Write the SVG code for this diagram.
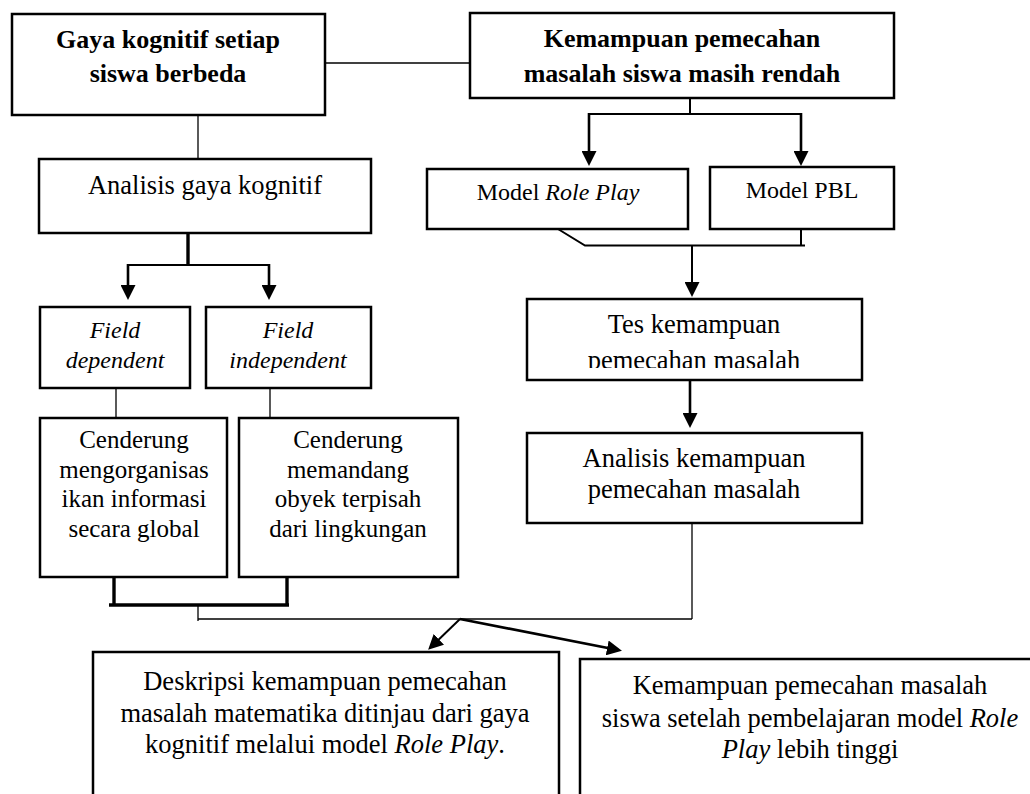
<svg xmlns="http://www.w3.org/2000/svg" width="1030" height="794" viewBox="0 0 1030 794">
<style>
.box{fill:#fff;stroke:#000;stroke-width:2.5}
.t{font-family:"Liberation Serif","Times New Roman",serif;fill:#000;text-anchor:middle}
.b{font-weight:bold;font-size:26px}
.r{font-size:26.5px}
.m{font-size:24px}
.c{font-size:25px}
.i{font-style:italic}
.thin{fill:none;stroke:#000;stroke-width:1.3}
.med{fill:none;stroke:#000;stroke-width:2}
.thick{fill:none;stroke:#000;stroke-width:2.6}
.heavy{fill:none;stroke:#000;stroke-width:3.4}
</style>
<defs>
<marker id="ah" viewBox="0 0 15 15" markerWidth="15" markerHeight="15" refX="11" refY="7.5" orient="auto" markerUnits="userSpaceOnUse">
<path d="M0,0 L15,7.5 L0,15 Z" fill="#000"/>
</marker>
<clipPath id="tesclip"><rect x="527" y="299" width="335" height="69"/></clipPath>
</defs>
<rect width="1030" height="794" fill="#fff"/>

<g id="connectors">
<line class="thin" x1="325" y1="63" x2="470" y2="63"/>
<line class="thin" x1="198" y1="115" x2="198" y2="159"/>
<line class="heavy" x1="188" y1="233" x2="188" y2="265"/>
<line class="med" x1="127" y1="265" x2="270" y2="265"/>
<line class="thick" x1="128" y1="264" x2="128" y2="296" marker-end="url(#ah)"/>
<line class="thick" x1="269" y1="264" x2="269" y2="296" marker-end="url(#ah)"/>
<line class="thin" x1="116" y1="388" x2="116" y2="418"/>
<line class="thin" x1="270" y1="388" x2="270" y2="418"/>
<line class="heavy" x1="114" y1="577" x2="114" y2="605"/>
<line class="heavy" x1="287" y1="577" x2="287" y2="605"/>
<line class="heavy" x1="109" y1="605" x2="289" y2="605"/>
<line class="thin" x1="198" y1="605" x2="198" y2="621"/>
<line class="thin" x1="198" y1="619" x2="692" y2="619"/>
<line class="thin" x1="692" y1="523" x2="692" y2="619"/>
<line class="med" x1="690" y1="98" x2="690" y2="114"/>
<line class="med" x1="588" y1="114" x2="802" y2="114"/>
<line class="thick" x1="589" y1="113" x2="589" y2="162" marker-end="url(#ah)"/>
<line class="thick" x1="801" y1="113" x2="801" y2="162" marker-end="url(#ah)"/>
<polyline class="med" points="558,229 585,245.5 805,245.5"/>
<line class="med" x1="801" y1="211" x2="801" y2="246"/>
<line class="med" x1="692" y1="245" x2="692" y2="293" marker-end="url(#ah)"/>
<line class="thick" x1="690" y1="380" x2="690" y2="424" marker-end="url(#ah)"/>
<line class="med" x1="460" y1="619" x2="431" y2="647" marker-end="url(#ah)"/>
<line class="thick" x1="460" y1="619" x2="618" y2="650" marker-end="url(#ah)"/>
</g>

<g id="gaya-kognitif">
<rect class="box" x="12" y="14" width="313" height="101"/>
<text class="t b" x="168" y="48">Gaya kognitif setiap</text>
<text class="t b" x="168" y="82">siswa berbeda</text>
</g>

<g id="kemampuan-rendah">
<rect class="box" x="470" y="13" width="424" height="85"/>
<text class="t b" x="682" y="47">Kemampuan pemecahan</text>
<text class="t b" x="682" y="82">masalah siswa masih rendah</text>
</g>

<g id="analisis-gaya">
<rect class="box" x="39" y="159" width="332" height="74"/>
<text class="t r" x="205" y="194">Analisis gaya kognitif</text>
</g>

<g id="model-role-play">
<rect class="box" x="427" y="169" width="261" height="60"/>
<text class="t m" x="558" y="200">Model <tspan class="i">Role Play</tspan></text>
</g>

<g id="model-pbl">
<rect class="box" x="710" y="167" width="184" height="62"/>
<text class="t m" x="802" y="198">Model PBL</text>
</g>

<g id="field-dependent">
<rect class="box" x="40" y="307" width="150" height="81"/>
<text class="t m i" x="115" y="338">Field</text>
<text class="t m i" x="115" y="368">dependent</text>
</g>

<g id="field-independent">
<rect class="box" x="206" y="307" width="165" height="81"/>
<text class="t m i" x="288" y="338">Field</text>
<text class="t m i" x="288" y="368">independent</text>
</g>

<g id="tes">
<rect class="box" x="527" y="299" width="335" height="81"/>
<text class="t r" x="694" y="333">Tes kemampuan</text>
<text class="t r" x="694" y="369" clip-path="url(#tesclip)">pemecahan masalah</text>
</g>

<g id="analisis-kemampuan">
<rect class="box" x="527" y="433" width="335" height="90"/>
<text class="t r" x="694" y="467">Analisis kemampuan</text>
<text class="t r" x="694" y="498">pemecahan masalah</text>
</g>

<g id="cenderung-global">
<rect class="box" x="40" y="418" width="187" height="159"/>
<text class="t c" x="134" y="448">Cenderung</text>
<text class="t c" x="134" y="478">mengorganisas</text>
<text class="t c" x="134" y="507">ikan informasi</text>
<text class="t c" x="134" y="537">secara global</text>
</g>

<g id="cenderung-terpisah">
<rect class="box" x="239" y="418" width="219" height="159"/>
<text class="t c" x="348" y="448">Cenderung</text>
<text class="t c" x="348" y="478">memandang</text>
<text class="t c" x="348" y="507">obyek terpisah</text>
<text class="t c" x="348" y="537">dari lingkungan</text>
</g>

<g id="deskripsi">
<rect class="box" x="93" y="652" width="466" height="160"/>
<text class="t r" x="325" y="690">Deskripsi kemampuan pemecahan</text>
<text class="t r" x="325" y="722">masalah matematika ditinjau dari gaya</text>
<text class="t r" x="325" y="753">kognitif melalui model <tspan class="i">Role Play</tspan>.</text>
</g>

<g id="kemampuan-tinggi">
<rect class="box" x="580" y="659" width="470" height="160"/>
<text class="t r" x="810" y="694">Kemampuan pemecahan masalah</text>
<text class="t r" x="810" y="727">siswa setelah pembelajaran model <tspan class="i">Role</tspan></text>
<text class="t r" x="810" y="758"><tspan class="i">Play</tspan> lebih tinggi</text>
</g>
</svg>
